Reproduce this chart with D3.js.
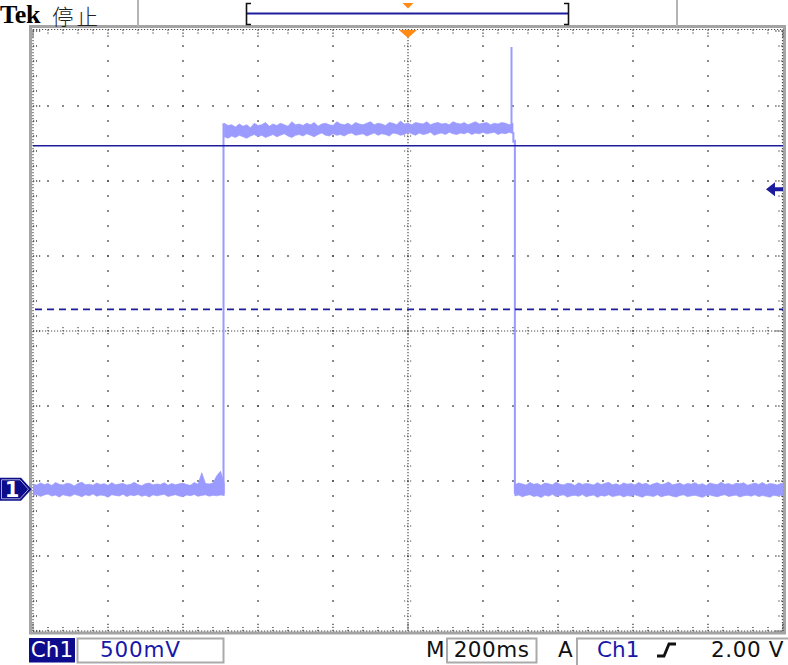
<!DOCTYPE html>
<html><head><meta charset="utf-8">
<script src="https://cdn.jsdelivr.net/npm/d3@7"></script>
<style>body{margin:0;background:#fff}svg{display:block}</style>
</head><body>
<svg id="c" width="788" height="665"></svg>
<script>
// ---------------- data ----------------
const timeDomainMs = [-1000, 1000];   // 200 ms/div x 10 div
const voltDomain   = [-0.945, 3.055]; // 500 mV/div x 8 div (ground marker offset)
const hDivs = 10, vDivs = 8, minorPerDiv = 5;
const sampleStepMs = 10;

// low level before rising edge (envelope max/min, volts)
const lowA_t0 = -1000;
const lowA_hi = [0.035,0.028,0.042,0.031,0.038,0.025,0.045,0.033,0.029,0.04,
 0.036,0.022,0.038,0.047,0.03,0.034,0.027,0.041,0.032,0.037,
 0.026,0.044,0.03,0.035,0.039,0.028,0.033,0.046,0.031,0.024,
 0.037,0.041,0.029,0.035,0.032,0.043,0.027,0.038,0.03,0.036,
 0.04,0.031,0.026,0.045,0.033,0.11,0.038,0.035,0.042,0.09,
 0.12,0.04];
const lowA_lo = [-0.041,-0.035,-0.048,-0.038,-0.032,-0.045,-0.039,-0.052,-0.036,-0.043,
 -0.047,-0.034,-0.04,-0.05,-0.037,-0.044,-0.031,-0.046,-0.039,-0.042,
 -0.053,-0.036,-0.041,-0.045,-0.033,-0.049,-0.038,-0.043,-0.035,-0.047,
 -0.04,-0.051,-0.037,-0.044,-0.039,-0.034,-0.048,-0.042,-0.036,-0.045,
 -0.05,-0.038,-0.043,-0.035,-0.047,-0.041,-0.037,-0.046,-0.04,-0.044,
 -0.038,-0.042];

// high level
const high_t0 = -490;
const high_hi = [2.44,2.425,2.43,2.415,2.435,2.42,2.43,2.41,2.44,2.425,
 2.43,2.445,2.42,2.435,2.425,2.44,2.43,2.42,2.45,2.43,
 2.435,2.425,2.44,2.43,2.445,2.42,2.435,2.44,2.43,2.425,
 2.45,2.435,2.43,2.44,2.425,2.445,2.435,2.43,2.44,2.45,
 2.43,2.44,2.435,2.425,2.445,2.44,2.43,2.455,2.435,2.44,
 2.43,2.445,2.44,2.435,2.45,2.43,2.44,2.445,2.435,2.44,
 2.43,2.45,2.44,2.435,2.445,2.43,2.44,2.45,2.435,2.44,
 2.445,2.43,2.44,2.435,2.445,2.44,2.43,2.44];
const high_lo = [2.35,2.34,2.355,2.345,2.36,2.35,2.34,2.355,2.365,2.35,
 2.36,2.345,2.355,2.365,2.35,2.36,2.37,2.355,2.345,2.36,
 2.365,2.355,2.37,2.36,2.35,2.365,2.375,2.36,2.355,2.37,
 2.36,2.365,2.355,2.37,2.375,2.36,2.365,2.37,2.355,2.365,
 2.375,2.36,2.37,2.365,2.355,2.375,2.37,2.36,2.365,2.38,
 2.37,2.36,2.375,2.365,2.37,2.38,2.36,2.37,2.375,2.365,
 2.38,2.37,2.365,2.375,2.37,2.38,2.365,2.375,2.37,2.38,
 2.37,2.375,2.38,2.365,2.375,2.37,2.38,2.37];

// low level after falling edge
const lowB_t0 = 285;
const lowB_hi = [0.03,0.042,0.035,0.028,0.045,0.033,0.038,0.026,0.041,0.036,
 0.03,0.047,0.034,0.029,0.04,0.037,0.025,0.043,0.032,0.038,
 0.035,0.028,0.044,0.031,0.039,0.046,0.03,0.036,0.027,0.042,
 0.034,0.038,0.029,0.045,0.033,0.04,0.026,0.037,0.043,0.031,
 0.036,0.048,0.03,0.035,0.041,0.028,0.039,0.034,0.044,0.03,
 0.037,0.025,0.042,0.035,0.031,0.046,0.033,0.038,0.029,0.04,
 0.036,0.043,0.027,0.034,0.041,0.032,0.045,0.03,0.038,0.035,
 0.028,0.04,0.034];
const lowB_lo = [-0.045,-0.038,-0.05,-0.041,-0.036,-0.048,-0.043,-0.055,-0.039,-0.046,
 -0.034,-0.049,-0.042,-0.037,-0.052,-0.044,-0.04,-0.047,-0.035,-0.05,
 -0.043,-0.038,-0.054,-0.041,-0.046,-0.036,-0.049,-0.044,-0.039,-0.051,
 -0.042,-0.047,-0.037,-0.045,-0.053,-0.04,-0.044,-0.048,-0.036,-0.05,
 -0.043,-0.039,-0.046,-0.052,-0.041,-0.037,-0.049,-0.044,-0.04,-0.047,
 -0.054,-0.042,-0.038,-0.045,-0.05,-0.041,-0.036,-0.048,-0.043,-0.039,
 -0.051,-0.044,-0.04,-0.046,-0.037,-0.049,-0.042,-0.047,-0.053,-0.04,
 -0.045,-0.038,-0.044];

// vertical transitions: time (ms), from volts, to volts
const edgeT  = [-492, 276,   281,  285];
const edgeV0 = [-0.03, 2.40, 2.38, 2.33];
const edgeV1 = [2.44, 2.948, 2.31, -0.03];

const triggerLevelV = 2.0;
const cursorSolidV = 2.29;
const cursorDashedV = 1.199;
const groundV = 0;

const topLabels = ["Tek", "停止"];
const chLabel = "Ch1", voltsLabel = "500mV";
const timeLabelPrefix = "M", timeLabel = "200ms";
const trigPrefix = "A", trigSource = "Ch1", trigLevelLabel = "2.00 V";
const chMarkerLabel = "1";

// ---------------- drawing ----------------
const svg = d3.select("#c");
const X0 = 33, X1 = 783, Y0 = 31, Y1 = 631;
const x = d3.scaleLinear().domain(timeDomainMs).range([X0, X1]);
const y = d3.scaleLinear().domain(voltDomain).range([Y1, Y0]);
const tDiv = (timeDomainMs[1]-timeDomainMs[0])/hDivs;
const vDiv = (voltDomain[1]-voltDomain[0])/vDivs;
const majorT = d3.range(hDivs+1).map(i => timeDomainMs[0] + i*tDiv);
const majorV = d3.range(vDivs+1).map(i => voltDomain[0] + i*vDiv);
const minorT = d3.range(hDivs*minorPerDiv+1).map(i => timeDomainMs[0] + i*tDiv/minorPerDiv);
const minorV = d3.range(vDivs*minorPerDiv+1).map(i => voltDomain[0] + i*vDiv/minorPerDiv);
const cX = x(majorT[hDivs/2]), cY = y(majorV[vDivs/2]);

const DOT = "#4a4a4a";
const g = svg.append("g");

// grid dots
majorT.slice(1,-1).forEach((t,i) => {
  if (i+1 === hDivs/2) return;
  minorV.slice(1,-1).forEach(v => g.append("rect").attr("x", x(t)-0.8).attr("y", y(v)-0.8)
    .attr("width",1.6).attr("height",1.6).attr("fill",DOT));
});
majorV.slice(1,-1).forEach((v,i) => {
  if (i+1 === vDivs/2) return;
  minorT.slice(1,-1).forEach(t => g.append("rect").attr("x", x(t)-0.8).attr("y", y(v)-0.8)
    .attr("width",1.6).attr("height",1.6).attr("fill",DOT));
});

// center crosshair
g.append("line").attr("x1",cX).attr("x2",cX).attr("y1",Y0).attr("y2",Y1)
  .attr("stroke",DOT).attr("stroke-width",1.2).attr("stroke-dasharray","1.2,1.8");
g.append("line").attr("y1",cY).attr("y2",cY).attr("x1",X0).attr("x2",X1)
  .attr("stroke",DOT).attr("stroke-width",1.2).attr("stroke-dasharray","1.2,1.8");
minorV.slice(1,-1).forEach(v => g.append("line").attr("x1",cX-4).attr("x2",cX+4.5)
  .attr("y1",y(v)).attr("y2",y(v)).attr("stroke",DOT).attr("stroke-width",1.2).attr("stroke-dasharray","1.2,1.8"));
minorT.slice(1,-1).forEach(t => g.append("line").attr("y1",cY-4).attr("y2",cY+4.5)
  .attr("x1",x(t)).attr("x2",x(t)).attr("stroke",DOT).attr("stroke-width",1.2).attr("stroke-dasharray","1.2,1.8"));

// frame
g.append("rect").attr("x",X0-2.5).attr("y",Y0-4.5).attr("width",X1-X0+4).attr("height",Y1-Y0+6.5)
  .attr("fill","none").attr("stroke","#a4a4a4").attr("stroke-width",3);
// ruler: dense dots along the edges
[[X0,Y0-1.5,X1,Y0-1.5],[X0,Y1,X1,Y1],[X0,Y0,X0,Y1],[X1-0.5,Y0,X1-0.5,Y1]].forEach(a =>
  g.append("line").attr("x1",a[0]).attr("y1",a[1]).attr("x2",a[2]).attr("y2",a[3])
   .attr("stroke",DOT).attr("stroke-width",1.2).attr("stroke-dasharray","1.2,1.8"));
minorT.forEach((t,i) => {
  const len = (i % minorPerDiv === 0) ? 8 : 4;
  g.append("line").attr("x1",x(t)).attr("x2",x(t)).attr("y1",Y0-1.5).attr("y2",Y0-1.5+len)
    .attr("stroke",DOT).attr("stroke-width",1.4).attr("stroke-dasharray","1.2,1.8");
  g.append("line").attr("x1",x(t)).attr("x2",x(t)).attr("y1",Y1).attr("y2",Y1-len)
    .attr("stroke",DOT).attr("stroke-width",1.4).attr("stroke-dasharray","1.2,1.8");
});
minorV.forEach((v,i) => {
  const len = (i % minorPerDiv === 0) ? 8 : 4;
  g.append("line").attr("y1",y(v)).attr("y2",y(v)).attr("x1",X0).attr("x2",X0+len)
    .attr("stroke",DOT).attr("stroke-width",1.4).attr("stroke-dasharray","1.2,1.8");
  g.append("line").attr("y1",y(v)).attr("y2",y(v)).attr("x1",X1-0.5).attr("x2",X1-0.5-len)
    .attr("stroke",DOT).attr("stroke-width",1.4).attr("stroke-dasharray","1.2,1.8");
});

// trace
const TRACE = "#9a9aff";
svg.append("clipPath").attr("id","clip").append("rect")
  .attr("x",X0).attr("y",Y0).attr("width",X1-X0).attr("height",Y1-Y0);
const tr = svg.append("g").attr("clip-path","url(#clip)");
function band(t0, hi, lo) {
  const idx = d3.range(hi.length);
  const area = d3.area().x(i => x(t0 + i*sampleStepMs)).y0(i => y(lo[i])).y1(i => y(hi[i]));
  tr.append("path").attr("d", area(idx)).attr("fill", TRACE)
    .attr("stroke", TRACE).attr("stroke-width", 0.7);
}
band(lowA_t0, lowA_hi, lowA_lo);
band(high_t0, high_hi, high_lo);
band(lowB_t0, lowB_hi, lowB_lo);
const line = d3.line().x(d => x(d[0])).y(d => y(d[1]));
edgeT.forEach((t,i) => tr.append("path").attr("d", line([[t, edgeV0[i]],[t, edgeV1[i]]]))
  .attr("stroke", TRACE).attr("stroke-width", 2).attr("fill","none"));

// cursor lines
const NAVY = "#1c1c9c";
svg.append("line").attr("x1",X0).attr("x2",X1).attr("y1",y(cursorSolidV)).attr("y2",y(cursorSolidV))
  .attr("stroke",NAVY).attr("stroke-width",1.6);
svg.append("line").attr("x1",X0+2).attr("x2",X1).attr("y1",y(cursorDashedV)).attr("y2",y(cursorDashedV))
  .attr("stroke",NAVY).attr("stroke-width",1.6).attr("stroke-dasharray","7,5");

// trigger level arrow (right)
const ty = y(triggerLevelV);
svg.append("path").attr("d",`M${X1-17},${ty} L${X1-8},${ty-7} L${X1-8},${ty-2} L${X1},${ty-2} L${X1},${ty+2} L${X1-8},${ty+2} L${X1-8},${ty+7} Z`)
  .attr("fill",NAVY);

// trigger position marker (top)
const ORANGE = "#ff8a14";
svg.append("path").attr("d",`M${cX-9},${Y0-1} L${cX+9},${Y0-1} L${cX},${Y0+7} Z`).attr("fill",ORANGE);

// ground marker "1"
const gy = y(groundV);
svg.append("path").attr("d",`M0,${gy-11.5} L21,${gy-11.5} L31.5,${gy} L21,${gy+11.5} L0,${gy+11.5} Z`).attr("fill","#0c0c8a");
svg.append("path").attr("d",`M1.5,${gy-9.5} L20,${gy-9.5} L28.5,${gy} L20,${gy+9.5} L1.5,${gy+9.5} Z`)
  .attr("fill","none").attr("stroke","#ffffff").attr("stroke-width",0.8).attr("opacity",0.8);
svg.append("text").attr("x",12).attr("y",gy+8).attr("text-anchor","middle")
  .attr("font-family","DejaVu Sans").attr("font-weight","bold").attr("font-size",21).attr("fill","#fff").text(chMarkerLabel);

// top bar
svg.append("text").attr("x",0).attr("y",23).attr("font-family","Liberation Serif").attr("font-weight","bold")
  .attr("font-size",26).attr("letter-spacing",-0.3).attr("fill","#000").text(topLabels[0]);
svg.append("text").attr("x",52).attr("y",25).attr("font-family","Noto Sans CJK SC").attr("font-weight",300)
  .attr("font-size",21.5).attr("letter-spacing",3).attr("fill","#222").text(topLabels[1]);
[138, 677].forEach(sx => svg.append("line").attr("x1",sx).attr("x2",sx).attr("y1",0).attr("y2",26)
  .attr("stroke","#b4b4b4").attr("stroke-width",2));
svg.append("line").attr("x1",246).attr("x2",569).attr("y1",13.5).attr("y2",13.5).attr("stroke",NAVY).attr("stroke-width",2);
svg.append("path").attr("d","M251,3.5 H246.5 V24.5 H251 M564,3.5 H568.5 V24.5 H564")
  .attr("fill","none").attr("stroke","#111").attr("stroke-width",1.6);
svg.append("path").attr("d",`M${cX-5.5},3 L${cX+5.5},3 L${cX},8.5 Z`).attr("fill",ORANGE);

// bottom bar
const FS = 21.5, BY = 657;
const BLUE_TXT = "#1818a8";
svg.append("rect").attr("x",29).attr("y",638).attr("width",46).attr("height",24.5).attr("fill","#0c0c8c");
svg.append("text").attr("x",52).attr("y",BY).attr("text-anchor","middle").attr("font-family","DejaVu Sans")
  .attr("font-size",FS).attr("fill","#fff").text(chLabel);
svg.append("rect").attr("x",77.5).attr("y",638.5).attr("width",146).attr("height",24)
  .attr("fill","#fff").attr("stroke","#aaaaaa").attr("stroke-width",2);
svg.append("text").attr("x",100).attr("y",BY).attr("font-family","DejaVu Sans").attr("font-size",FS)
  .attr("letter-spacing",0.8).attr("fill",BLUE_TXT).text(voltsLabel);
svg.append("text").attr("x",426).attr("y",BY).attr("font-family","DejaVu Sans").attr("font-size",FS)
  .attr("fill","#111").text(timeLabelPrefix);
svg.append("rect").attr("x",447).attr("y",638.5).attr("width",89.5).attr("height",24)
  .attr("fill","#fff").attr("stroke","#aaaaaa").attr("stroke-width",2);
svg.append("text").attr("x",491.5).attr("y",BY).attr("text-anchor","middle").attr("font-family","DejaVu Sans")
  .attr("font-size",FS).attr("letter-spacing",0.5).attr("fill","#111").text(timeLabel);
svg.append("text").attr("x",558).attr("y",BY).attr("font-family","DejaVu Sans").attr("font-size",FS)
  .attr("fill","#111").text(trigPrefix);
svg.append("rect").attr("x",577).attr("y",638.5).attr("width",214).attr("height",30)
  .attr("fill","#fff").attr("stroke","#aaaaaa").attr("stroke-width",2);
svg.append("text").attr("x",597).attr("y",BY).attr("font-family","DejaVu Sans").attr("font-size",FS)
  .attr("fill",BLUE_TXT).text(trigSource);
svg.append("path").attr("d","M657,656 H664 L669,644 H676").attr("fill","none").attr("stroke","#111")
  .attr("stroke-width",2.8).attr("stroke-linejoin","miter");
svg.append("text").attr("x",784).attr("y",BY).attr("text-anchor","end").attr("font-family","DejaVu Sans")
  .attr("font-size",FS).attr("letter-spacing",0.6).attr("fill","#111").text(trigLevelLabel);
</script>
</body></html>
